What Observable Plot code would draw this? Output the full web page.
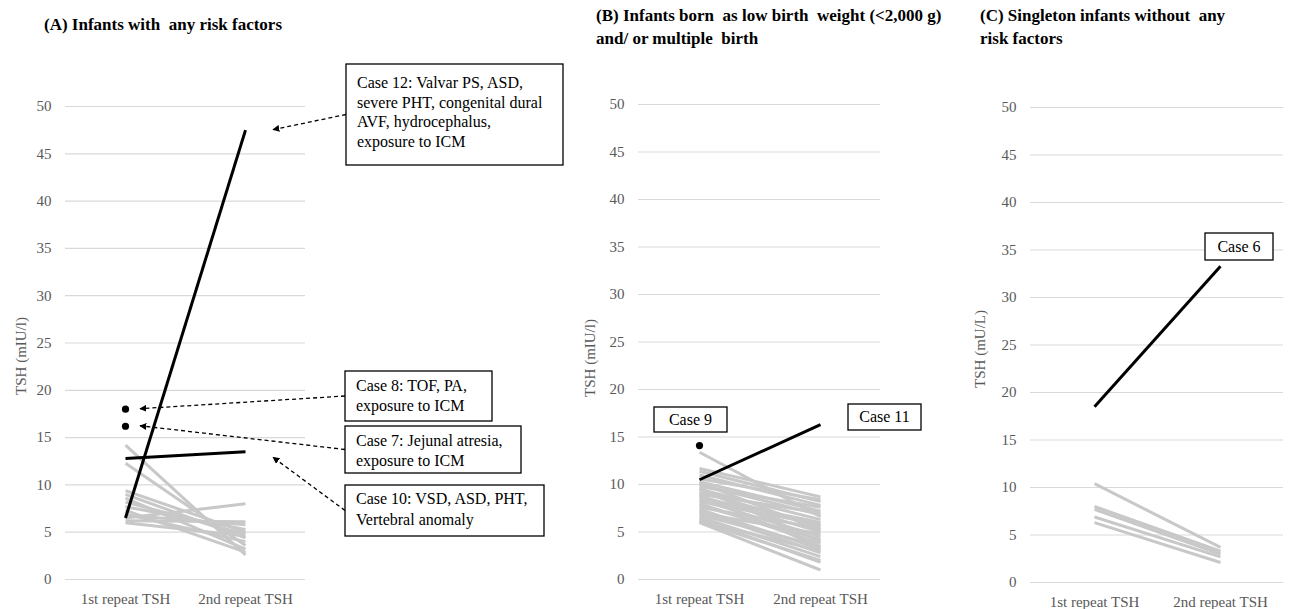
<!DOCTYPE html>
<html>
<head>
<meta charset="utf-8">
<script src="https://cdn.jsdelivr.net/npm/d3@7"></script>
<script src="https://cdn.jsdelivr.net/npm/@observablehq/plot@0.6"></script>
<style>
  body { margin: 0; background: #fff; }
  #root { position: relative; width: 1290px; height: 609px; overflow: hidden; font-family: "Liberation Serif", Tinos, "Times New Roman", Times, "DejaVu Serif", serif; background: #fff; }
  .title { position: absolute; font-weight: bold; font-size: 17px; line-height: 23px; color: #000; white-space: pre; }
  .panel { position: absolute; top: 60px; }
  .panel svg, .panel svg text { font-family: "Liberation Serif", Tinos, "Times New Roman", Times, "DejaVu Serif", serif !important; }
</style>
</head>
<body>
<div id="root"></div>
<script>
// ---------- data ----------
const timepoints = ["1st repeat TSH", "2nd repeat TSH"];
const yTicks = [0, 5, 10, 15, 20, 25, 30, 35, 40, 45, 50];

const titleA = "(A) Infants with  any risk factors";
const titleB = ["(B) Infants born  as low birth  weight (<2,000 g)", "and/ or multiple  birth"];
const titleC = ["(C) Singleton infants without  any", "risk factors"];
const yLabelA = "TSH (mIU/l)";
const yLabelB = "TSH (mIU/l)";
const yLabelC = "TSH (mU/L)";

// Panel A gray lines
const aGrayFirst  = [14.2, 12.3, 9.4, 9.0, 8.6, 8.2, 7.7, 7.3, 6.9, 6.5, 6.2, 6.0, 6.8];
const aGraySecond = [2.6, 3.6, 5.0, 4.4, 3.2, 4.8, 5.3, 2.9, 4.0, 8.0, 6.1, 4.6, 5.8];
// Panel A highlighted cases
const aCases = ["Case 12", "Case 10"];
const aCaseFirst = [6.5, 12.8];
const aCaseSecond = [47.5, 13.5];
const aDotCases = ["Case 8", "Case 7"];
const aDotValues = [18.0, 16.2];

// Panel B gray lines
const bGrayFirst  = [11.7, 11.4, 11.0, 10.6, 10.3, 10.0, 9.8, 9.5, 9.2, 9.0, 8.8, 8.6, 8.4, 8.2, 8.0,
                     7.8, 7.6, 7.4, 7.2, 7.0, 6.8, 6.6, 6.4, 6.2, 6.0, 6.1, 8.9, 9.6, 13.4, 10.2];
const bGraySecond = [8.7, 8.2, 7.8, 8.4, 7.2, 6.8, 7.6, 6.3, 5.6, 7.0, 5.0, 6.0, 4.5, 5.8, 3.8,
                     4.2, 5.4, 3.2, 2.8, 4.8, 3.5, 2.4, 1.8, 3.0, 1.0, 2.0, 3.4, 4.0, 6.6, 5.2];
const bCases = ["Case 11"];
const bCaseFirst = [10.5];
const bCaseSecond = [16.3];
const bDotCases = ["Case 9"];
const bDotValues = [14.1];

// Panel C gray lines
const cGrayFirst  = [10.4, 8.0, 7.7, 6.9, 6.3];
const cGraySecond = [3.7, 3.3, 3.0, 2.7, 2.1];
const cCases = ["Case 6"];
const cCaseFirst = [18.5];
const cCaseSecond = [33.3];

// annotation texts
const noteCase12 = ["Case 12: Valvar PS, ASD,", "severe PHT, congenital dural", "AVF, hydrocephalus,", "exposure to ICM"];
const noteCase8  = ["Case 8: TOF, PA,", "exposure to ICM"];
const noteCase7  = ["Case 7: Jejunal atresia,", "exposure to ICM"];
const noteCase10 = ["Case 10: VSD, ASD, PHT,", "Vertebral anomaly"];
const noteCase9  = ["Case 9"];
const noteCase11 = ["Case 11"];
const noteCase6  = ["Case 6"];

// ---------- helpers ----------
const SERIF = '"Liberation Serif", Tinos, "Times New Roman", Times, "DejaVu Serif", serif';
function toRows(first, second, prefix) {
  const rows = [];
  first.forEach((v, i) => {
    rows.push({id: prefix + i, t: timepoints[0], v});
    rows.push({id: prefix + i, t: timepoints[1], v: second[i]});
  });
  return rows;
}

const GRID = "#d9d9d9", GRAY = "#c8c8c8", TICK = "#595959";
const H = 549;

function makePanel(cfg) {
  const gray = toRows(cfg.grayFirst, cfg.graySecond, "g");
  const black = toRows(cfg.caseFirst, cfg.caseSecond, "c");
  const dots = (cfg.dotValues || []).map((v, i) => ({t: timepoints[0], v, id: cfg.dotCases[i]}));
  return Plot.plot({
    width: cfg.width, height: H,
    marginLeft: cfg.ml, marginRight: cfg.mr, marginTop: cfg.mt, marginBottom: cfg.mb,
    style: {fontFamily: SERIF, fontSize: "15px", color: TICK, background: "transparent", overflow: "visible"},
    x: {type: "point", domain: timepoints, padding: 0.5, label: null},
    y: {domain: [0, 50], label: null},
    marks: [
      Plot.gridY(yTicks, {stroke: GRID, strokeOpacity: 1, strokeWidth: 1.2}),
      Plot.axisY(yTicks, {tickSize: 0, tickPadding: 14, label: null, fill: TICK}),
      Plot.axisX({tickSize: 0, tickPadding: 14, label: null, fill: TICK}),
      Plot.line(gray, {x: "t", y: "v", z: "id", stroke: GRAY, strokeWidth: 3, strokeLinecap: "butt"}),
      Plot.line(black, {x: "t", y: "v", z: "id", stroke: "#000", strokeWidth: 3, strokeLinecap: "butt"}),
      Plot.dot(dots, {x: "t", y: "v", r: 3.6, fill: "#000", stroke: "none"})
    ]
  });
}

function annotate(chart, id, yLabel, yLabelPos, notes) {
  const svg = d3.select(chart);
  const xs = chart.scale("x"), ys = chart.scale("y");
  const defs = svg.append("defs");
  defs.append("marker")
    .attr("id", "ah" + id).attr("viewBox", "0 0 10 10").attr("refX", 9).attr("refY", 5)
    .attr("markerWidth", 7).attr("markerHeight", 7).attr("markerUnits", "userSpaceOnUse")
    .attr("orient", "auto")
    .append("path").attr("d", "M0,0 L10,5 L0,10 z").attr("fill", "#000");
  svg.append("text")
    .attr("transform", `translate(${yLabelPos[0]},${yLabelPos[1]}) rotate(-90)`)
    .attr("text-anchor", "middle").attr("dominant-baseline", "central")
    .attr("fill", TICK).style("font-size", "15px").style("font-family", SERIF)
    .text(yLabel);
  const g = svg.append("g").style("font-family", SERIF).style("font-size", "16px").attr("text-anchor", "start");
  for (const n of notes) {
    const [x0, y0, x1, y1] = n.box;
    if (n.target) {
      const tx = xs.apply(n.target.t) + n.target.dx;
      const ty = ys.apply(n.target.v) + (n.target.dy || 0);
      g.append("line")
        .attr("x1", x0).attr("y1", (y0 + y1) / 2).attr("x2", tx).attr("y2", ty)
        .attr("stroke", "#000").attr("stroke-width", 1.3).attr("stroke-dasharray", "4,3")
        .attr("marker-end", `url(#ah${id})`);
    }
    g.append("rect").attr("x", x0).attr("y", y0).attr("width", x1 - x0).attr("height", y1 - y0)
      .attr("fill", "#fff").attr("stroke", "#000").attr("stroke-width", 1.3);
    n.lines.forEach((s, i) => {
      const t = g.append("text").attr("fill", "#000")
        .attr("y", y0 + n.first + i * n.lh).text(s);
      if (n.center) t.attr("x", (x0 + x1) / 2).attr("text-anchor", "middle");
      else t.attr("x", x0 + 11).attr("text-anchor", "start");
    });
  }
}

// ---------- layout ----------
const root = document.getElementById("root");
function addTitle(lines, left, top) {
  const d = document.createElement("div");
  d.className = "title";
  d.style.left = left + "px"; d.style.top = top + "px";
  d.textContent = Array.isArray(lines) ? lines.join("\n") : lines;
  root.appendChild(d);
}
function place(chart, left) {
  const wrap = document.createElement("div");
  wrap.className = "panel";
  wrap.style.left = left + "px";
  wrap.appendChild(chart);
  root.appendChild(wrap);
}

// Panel A
const chartA = makePanel({width: 580, ml: 65, mr: 275, mt: 46, mb: 30,
  grayFirst: aGrayFirst, graySecond: aGraySecond, caseFirst: aCaseFirst, caseSecond: aCaseSecond,
  dotValues: aDotValues, dotCases: aDotCases});
place(chartA, 0);
annotate(chartA, "A", yLabelA, [21, 296], [
  {lines: noteCase12, box: [346, 4, 563, 105], first: 24, lh: 19.5, target: {t: timepoints[1], v: aCaseSecond[0], dx: 28}},
  {lines: noteCase8,  box: [345, 311, 492, 361], first: 20, lh: 20, target: {t: timepoints[0], v: aDotValues[0], dx: 15}},
  {lines: noteCase7,  box: [345, 366, 521, 413], first: 20, lh: 20, target: {t: timepoints[0], v: aDotValues[1], dx: 15}},
  {lines: noteCase10, box: [345, 425, 544, 476], first: 19, lh: 21, target: {t: timepoints[1], v: aCaseSecond[1], dx: 28, dy: 6}}
]);
addTitle(titleA, 44, 13);

// Panel B
const chartB = makePanel({width: 320, ml: 58, mr: 20, mt: 44, mb: 30,
  grayFirst: bGrayFirst, graySecond: bGraySecond, caseFirst: bCaseFirst, caseSecond: bCaseSecond,
  dotValues: bDotValues, dotCases: bDotCases});
place(chartB, 580);
annotate(chartB, "B", yLabelB, [10, 298], [
  {lines: noteCase9,  box: [74, 347, 147, 372], first: 18, lh: 20, center: true},
  {lines: noteCase11, box: [268, 344, 341, 370], first: 18, lh: 20, center: true}
]);
addTitle(titleB, 596, 4);

// Panel C
const chartC = makePanel({width: 330, ml: 70, mr: 7, mt: 47, mb: 27,
  grayFirst: cGrayFirst, graySecond: cGraySecond, caseFirst: cCaseFirst, caseSecond: cCaseSecond});
place(chartC, 960);
annotate(chartC, "C", yLabelC, [20, 289], [
  {lines: noteCase6, box: [245, 173, 313, 200], first: 19, lh: 20, center: true}
]);
addTitle(titleC, 980, 4);
</script>
</body>
</html>
